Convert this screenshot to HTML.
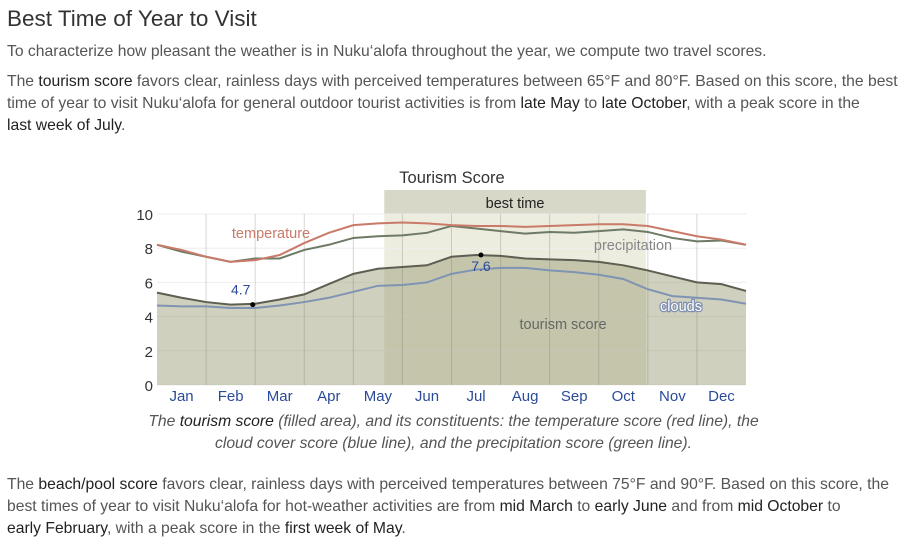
<!DOCTYPE html>
<html><head><meta charset="utf-8"><style>
body{margin:0;width:907px;height:552px;background:#fff;font-family:"Liberation Sans",sans-serif;color:#555;overflow:hidden;position:relative}
h1{position:absolute;left:7px;top:6px;margin:0;font-size:22.5px;font-weight:normal;color:#333}
p{position:absolute;left:7px;margin:0;font-size:15.7px;line-height:22px;width:900px;white-space:nowrap}
b{font-weight:normal;color:#222}
.cap{left:0;width:907px;text-align:center;font-style:italic;top:411px}
</style></head><body>
<h1>Best Time of Year to Visit</h1>
<p style="top:41px">To characterize how pleasant the weather is in Nuku‘alofa throughout the year, we compute two travel scores.</p>
<p style="top:71px">The <b>tourism score</b> favors clear, rainless days with perceived temperatures between 65°F and 80°F. Based on this score, the best<br>time of year to visit Nuku‘alofa for general outdoor tourist activities is from <b>late May</b> to <b>late October</b>, with a peak score in the<br><b>last week of July</b>.</p>
<svg id="chart" width="907" height="410" style="position:absolute;left:0;top:0" font-family="Liberation Sans, sans-serif"></svg>
<p class="cap">The <b>tourism score</b> (filled area), and its constituents: the temperature score (red line), the<br>cloud cover score (blue line), and the precipitation score (green line).</p>
<p style="top:474px">The <b>beach/pool score</b> favors clear, rainless days with perceived temperatures between 75°F and 90°F. Based on this score, the<br>best times of year to visit Nuku‘alofa for hot-weather activities are from <b>mid March</b> to <b>early June</b> and from <b>mid October</b> to<br><b>early February</b>, with a peak score in the <b>first week of May</b>.</p>
<script>
const months=["Jan","Feb","Mar","Apr","May","Jun","Jul","Aug","Sep","Oct","Nov","Dec"];
const yTicks=[0,2,4,6,8,10];
const tourism=[5.4,5.1,4.85,4.7,4.75,5.0,5.3,5.9,6.5,6.8,6.9,7.0,7.5,7.6,7.55,7.4,7.35,7.3,7.2,7.0,6.7,6.35,6.0,5.9,5.5];
const clouds=[4.65,4.6,4.6,4.5,4.5,4.65,4.85,5.1,5.45,5.8,5.85,6.0,6.5,6.75,6.85,6.85,6.7,6.6,6.45,6.2,5.6,5.2,5.1,5.0,4.75];
const temperature=[8.2,7.9,7.5,7.2,7.3,7.6,8.3,8.9,9.35,9.45,9.5,9.45,9.35,9.3,9.3,9.25,9.3,9.35,9.4,9.4,9.3,9.0,8.7,8.5,8.2];
const precipitation=[8.2,7.8,7.5,7.2,7.4,7.4,7.9,8.2,8.6,8.7,8.75,8.9,9.3,9.15,9.0,8.85,8.95,8.9,9.0,9.1,8.95,8.6,8.4,8.45,8.2];
const bestStart=4.63, bestEnd=9.96;
const minMark={m:1.95,v:4.7}, maxMark={m:6.6,v:7.6};
const L=157,R=746,T=214,B=385;
const xm=m=>L+m/12*(R-L);
const xi=i=>xm(i/(tourism.length-1)*12);
const y=v=>B-v/10*(B-T);
const svg=document.getElementById('chart');
const NS='http://www.w3.org/2000/svg';
function mk(tag,at,txt){const e=document.createElementNS(NS,tag);for(const k in at)e.setAttribute(k,at[k]);if(txt!=null)e.textContent=txt;svg.appendChild(e);return e;}
let e;
e=mk('rect',{x:xm(bestStart),y:190,width:xm(bestEnd)-xm(bestStart),height:T-190,fill:'#d8d8c8'});


e=mk('rect',{x:xm(bestStart),y:T,width:xm(bestEnd)-xm(bestStart),height:B-T,fill:'#ececdf'});


e=mk('text',{x:(xm(bestStart)+xm(bestEnd))/2,y:208,'text-anchor':'middle','font-size':14.5,fill:'#222'},'best time');


e=mk('text',{x:452,y:183,'text-anchor':'middle','font-size':16.5,fill:'#333'},'Tourism Score');


yTicks.forEach(v=>{
 e=mk('line',{x1:L,x2:R,y1:y(v),y2:y(v),stroke:'#eee'});
 
 
 e=mk('text',{x:L-4,y:y(v)+6,'text-anchor':'end','font-size':15,fill:'#333'},v);
 
 
});
let pts=tourism.map((v,i)=>xi(i)+','+y(v)).join(' ');
e=mk('polygon',{points:L+','+B+' '+pts+' '+R+','+B,fill:'rgba(150,150,110,0.45)'});


for(let m=1;m<12;m++){
 e=mk('line',{x1:xm(m),x2:xm(m),y1:T,y2:B,stroke:'rgba(120,120,100,0.3)'});
 
 
}
months.forEach((mn,i)=>{
 e=mk('text',{x:xm(i+0.5),y:401,'text-anchor':'middle','font-size':15,fill:'#2a4a9a'},mn);
 
 
});
function line(arr,col,name,w){
 const el=mk('polyline',{points:arr.map((v,i)=>xi(i)+','+y(v)).join(' '),fill:'none',stroke:col,'stroke-width':w||2});
 
 
}
line(clouds,'#7f93b3','clouds-line');
line(precipitation,'#6e7a66','precipitation-line');
line(temperature,'#c97a68','temperature-line');
line(tourism,'#5e5e52','tourism-score-line');
[[minMark,-10],[maxMark,16]].forEach(([p,dy])=>{
 e=mk('circle',{cx:xm(p.m),cy:y(p.v),r:2.5,fill:'#000'});
 
 
 e=mk('text',{x:xm(p.m)+(dy<0?-12:0),y:y(p.v)+dy,'text-anchor':'middle','font-size':14,fill:'#2a4a9a'},p.v);
 
 
});
[['temperature',271,238,'#c97a68','temperature-label'],['precipitation',633,250,'#888','precipitation-label'],['tourism score',563,329,'#666','tourism-score-label']].forEach(a=>{
 e=mk('text',{x:a[1],y:a[2],'text-anchor':'middle','font-size':14.5,fill:a[3]},a[0]);
 
 
});
e=mk('text',{x:681,y:311,'text-anchor':'middle','font-size':14.5,fill:'#fff',stroke:'#8090b0','stroke-width':2.5,'paint-order':'stroke'},'clouds');


</script>
</body></html>
